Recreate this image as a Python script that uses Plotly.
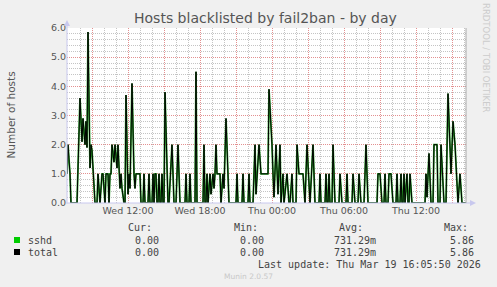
import plotly.graph_objects as go
from datetime import datetime, timedelta

# ---------------- data ----------------
START = datetime(2026, 3, 18, 6, 55)          # left edge of the graph
END = datetime(2026, 3, 19, 16, 10)           # right edge of the graph
STEP_MIN = 5                                   # munin sample interval (minutes)

# sample index (5-minute steps from START) and number of blacklisted hosts
steps = [0, 1, 3, 4, 10, 11, 13, 15, 16, 18, 19, 20, 21, 23, 24, 25, 26, 28,
         30, 31, 33, 35, 36, 38, 39, 41, 42, 43, 44, 45, 47, 48, 50, 51, 53, 54, 55, 57,
         58, 59, 61, 62, 63, 65, 67, 68, 69, 73, 74, 76, 77, 78, 81, 82, 83, 85, 86, 87,
         88, 89, 90, 91, 92, 93, 94, 95, 96,
         97, 98, 101, 102, 105, 107, 109, 111, 113, 118, 119, 120, 122, 123, 124, 128, 129, 130,
         133, 136, 137, 138, 139, 140, 141, 143, 144, 146, 147, 148, 149, 150, 153, 154, 156,
         157, 159, 162, 169, 170, 171, 175, 176, 177, 181, 182, 183, 186, 188, 189, 192, 194, 200,
         201, 202, 204, 205, 206, 207, 209, 211, 213, 214, 216, 217, 220, 222, 223, 225, 226,
         229, 230, 232, 236, 238, 240, 243, 246, 248, 252, 253, 254, 258, 259, 260, 261, 262,
         263, 265, 266, 268, 272, 273, 275, 279, 280, 281, 285, 286, 288, 291, 292, 294, 297,
         299, 301,
         310, 311, 313, 315, 317, 318, 319, 321, 322, 324, 326, 329, 330, 331, 333, 334, 335,
         336, 337, 338, 340, 341, 342, 343, 345, 358, 359, 360, 361, 362, 364, 366, 367, 370,
         371, 373, 374, 377, 379, 381, 384, 386, 388, 391, 393, 395, 399]

sshd = [1.0, 2.0, 1.0, 0, 0, 1.0, 3.6, 2.1, 2.9, 2.0, 2.8, 1.9, 5.86, 1.2, 2.0, 1.8, 1.0, 0,
        0, 1.0, 0, 1.0, 1.0, 0, 1.0, 1.0, 0, 1.0, 1.0, 2.0, 1.4, 2.0, 1.2, 2.0, 0.5, 1.0, 0.5, 0,
        0, 3.7, 0.3, 1.0, 0.5, 4.1, 1.0, 0.5, 1.0, 1.0, 0, 0, 1.0, 0, 0, 1.0, 0, 0, 1.0, 0,
        1.0, 1.0, 0, 0, 1.0, 0, 0, 1.0, 0,
        0, 3.8, 0, 0, 2.0, 0, 0, 2.0, 0, 0, 1.0, 0, 0, 1.0, 0, 0, 4.5, 0,
        0, 0, 2.0, 0, 0, 1.0, 0, 1.0, 0.3, 1.0, 0.5, 1.0, 2.0, 1.0, 1.0, 0, 1.0,
        0.5, 2.9, 0, 0, 1.0, 0, 0, 1.0, 0, 0, 1.0, 0, 0, 2.0, 0.3, 2.0, 1.0, 1.0,
        1.0, 3.9, 2.8, 2.0, 1.0, 0.2, 2.0, 0.3, 2.0, 0, 1.0, 0, 1.0, 0, 0, 1.0, 0,
        0, 2.0, 1.0, 1.0, 0, 2.0, 0, 2.0, 0, 0, 1.0, 0, 0, 1.0, 0, 0, 1.0,
        0, 0, 2.0, 0, 0, 1.0, 0, 0, 1.0, 0, 0, 1.0, 0, 0, 1.0, 0, 0,
        2.0, 0,
        0, 1.0, 1.0, 0, 0, 1.0, 0, 0, 1.0, 1.0, 0, 0, 1.0, 0, 0, 1.0, 0,
        0, 1.0, 0, 1.0, 0, 0, 1.0, 0, 0, 1.0, 0.2, 1.0, 1.7, 0, 0, 2.0, 2.0,
        0, 0, 2.0, 0, 0, 3.75, 1.0, 2.8, 2.0, 0, 1.0, 0, 0]

total = list(sshd)   # only one jail, so the total equals sshd

series_names = ["sshd", "total"]
series_colors = ["#00cc00", "#000000"]
stat_headers = ["Cur:", "Min:", "Avg:", "Max:"]
stat_values = {"sshd": ["0.00", "0.00", "731.29m", "5.86"],
               "total": ["0.00", "0.00", "731.29m", "5.86"]}

y_ticks = [0, 1, 2, 3, 4, 5, 6]
y_ticklabels = ["0.0", "1.0", "2.0", "3.0", "4.0", "5.0", "6.0"]

x_major = [datetime(2026, 3, 18, 9) + timedelta(hours=3 * i) for i in range(11)]
x_major_labels = ["", "Wed 12:00", "", "Wed 18:00", "", "Thu 00:00", "",
                  "Thu 06:00", "", "Thu 12:00", ""]

title = "Hosts blacklisted by fail2ban - by day"
y_title = "Number of hosts"
last_update = "Last update: Thu Mar 19 16:05:50 2026"
footer = "Munin 2.0.57"
side_text = "RRDTOOL / TOBI OETIKER"

times = [START + timedelta(minutes=STEP_MIN * s) for s in steps]

# ---------------- layout geometry (pixels) ----------------
W, H = 497, 287
L, R, T, B = 67, 466, 28, 203
PW, PH = R - L, B - T


def px(x):
    return (x - L) / PW


def py(y):
    return (B - y) / PH


SANS = "DejaVu Sans"
MONO = "DejaVu Sans Mono"
TXT = "#555555"
LEG = "#444444"
MINOR = "#c4c4c4"
MAJOR = "#e39090"
AXIS = "#c8c8ee"

fig = go.Figure()
fig.add_trace(go.Scatter(x=times, y=sshd, mode="lines", name="sshd",
                         line=dict(color="#249a24", width=1.8),
                         showlegend=False, hoverinfo="skip"))
fig.add_trace(go.Scatter(x=times, y=total, mode="lines", name="total",
                         line=dict(color=series_colors[1], width=1),
                         showlegend=False, hoverinfo="skip"))

annotations = []


def text(x, y, s, size, color, xanchor="center", family=SANS, angle=0):
    annotations.append(dict(x=px(x), y=py(y), xref="paper", yref="paper", text=s,
                            showarrow=False, xanchor=xanchor, yanchor="middle",
                            textangle=angle,
                            font=dict(family=family, size=size, color=color)))


text(265, 18, title, 14, TXT)
text(10.5, 115, y_title, 10.5, TXT, angle=-90)
text(486, 58, side_text, 8.5, "#cccccc", angle=90)

col_right_head = [154, 260, 365, 470]
col_right_val = [161, 266, 378, 476]
for h, xr in zip(stat_headers, col_right_head):
    text(xr, 227, h, 10, LEG, xanchor="right", family=MONO)
row_y = [240, 252]
for name, yy in zip(series_names, row_y):
    text(26, yy, name, 10, LEG, xanchor="left", family=MONO)
    for v, xr in zip(stat_values[name], col_right_val):
        text(xr, yy, v, 10, LEG, xanchor="right", family=MONO)
text(483, 264, last_update, 10, LEG, xanchor="right", family=MONO)
text(248, 276, footer, 7.5, "#c8c8c8")

shapes = []
for c, yy in zip(series_colors, row_y):
    shapes.append(dict(type="rect", xref="paper", yref="paper",
                       x0=px(14), x1=px(20), y0=py(yy - 3), y1=py(yy + 3),
                       fillcolor=c, line=dict(width=0)))
# axes with arrows
shapes.append(dict(type="line", xref="paper", yref="paper", x0=px(67), x1=px(67),
                   y0=py(203.5), y1=py(22), line=dict(color=AXIS, width=1), layer="above"))
shapes.append(dict(type="line", xref="paper", yref="paper", x0=px(66.5), x1=px(472),
                   y0=py(203), y1=py(203), line=dict(color=AXIS, width=1), layer="above"))
shapes.append(dict(type="path", xref="paper", yref="paper",
                   path=f"M {px(64)},{py(26)} L {px(70)},{py(26)} L {px(67)},{py(20)} Z",
                   fillcolor=AXIS, line=dict(width=0), layer="above"))
shapes.append(dict(type="path", xref="paper", yref="paper",
                   path=f"M {px(470)},{py(200)} L {px(470)},{py(206)} L {px(476)},{py(203)} Z",
                   fillcolor=AXIS, line=dict(width=0), layer="above"))
# right frame line
shapes.append(dict(type="line", xref="paper", yref="paper", x0=px(466), x1=px(466),
                   y0=py(203), y1=py(28), line=dict(color="#a8a8a8", width=1), layer="above"))

fig.update_layout(
    width=W, height=H, autosize=False,
    margin=dict(l=L, r=W - R, t=T, b=H - B, pad=0),
    paper_bgcolor="#f0f0f0", plot_bgcolor="#ffffff",
    showlegend=False,
    annotations=annotations, shapes=shapes,
    xaxis=dict(type="date", range=[START, END], tickmode="array",
               tickvals=x_major, ticktext=x_major_labels,
               showgrid=True, gridcolor=MAJOR, griddash="1px,1px", gridwidth=1,
               minor=dict(dtick=3600000, tick0=datetime(2026, 3, 18, 7),
                          showgrid=True, gridcolor=MINOR, griddash="1px,1px", gridwidth=1),
               ticks="", showline=False, zeroline=False,
               tickfont=dict(family=SANS, size=9.5, color=TXT), fixedrange=True),
    yaxis=dict(range=[0, 6], tickmode="array", tickvals=y_ticks, ticktext=y_ticklabels,
               showgrid=True, gridcolor=MAJOR, griddash="1px,1px", gridwidth=1,
               minor=dict(dtick=0.2, tick0=0, showgrid=True, gridcolor=MINOR,
                          griddash="1px,1px", gridwidth=1),
               ticks="", showline=False, zeroline=False,
               tickfont=dict(family=SANS, size=9.5, color=TXT), fixedrange=True),
)

fig.write_html("out.html", config={"displayModeBar": False})
